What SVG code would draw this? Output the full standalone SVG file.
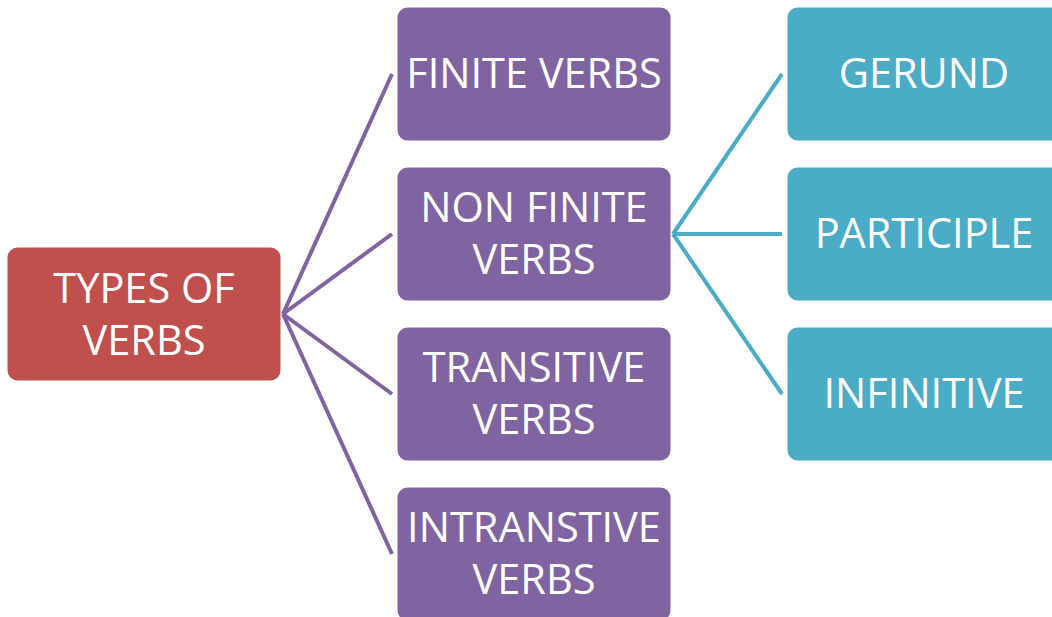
<svg xmlns="http://www.w3.org/2000/svg" width="1052" height="617" viewBox="0 0 1052 617">
<style>
.t{font-family:"Open Sans","Noto Sans",sans-serif;font-size:41.5px;fill:#fff;text-anchor:middle}
.red{fill:#C0504D}
.pur{fill:#8064A2}
.teal{fill:#4BACC6}
.lp{stroke:#8064A2;stroke-width:4;fill:none}
.lt{stroke:#4BACC6;stroke-width:4;fill:none}
</style>
<rect width="1052" height="617" fill="#fff"/>
<g id="connectors">
<line class="lp" x1="283" y1="314" x2="392" y2="74"/>
<line class="lp" x1="283" y1="314" x2="392" y2="234"/>
<line class="lp" x1="283" y1="314" x2="392" y2="394"/>
<line class="lp" x1="283" y1="314" x2="392" y2="554"/>
<line class="lt" x1="673" y1="234" x2="782" y2="74"/>
<line class="lt" x1="673" y1="234" x2="782" y2="234"/>
<line class="lt" x1="673" y1="234" x2="782" y2="394"/>
</g>
<g id="types">
<rect class="red" x="7.5" y="247.5" width="273" height="133" rx="10"/>
<text class="t" x="144" y="303">TYPES OF</text>
<text class="t" x="144" y="355">VERBS</text>
</g>
<g id="finite">
<rect class="pur" x="397.5" y="7.5" width="273" height="133" rx="10"/>
<text class="t" x="534" y="88">FINITE VERBS</text>
</g>
<g id="nonfinite">
<rect class="pur" x="397.5" y="167.5" width="273" height="133" rx="10"/>
<text class="t" x="534" y="222">NON FINITE</text>
<text class="t" x="534" y="274">VERBS</text>
</g>
<g id="transitive">
<rect class="pur" x="397.5" y="327.5" width="273" height="133" rx="10"/>
<text class="t" x="534" y="382">TRANSITIVE</text>
<text class="t" x="534" y="434">VERBS</text>
</g>
<g id="intransitive">
<rect class="pur" x="397.5" y="487.5" width="273" height="133" rx="10"/>
<text class="t" x="534" y="542">INTRANSTIVE</text>
<text class="t" x="534" y="594">VERBS</text>
</g>
<g id="gerund">
<rect class="teal" x="787.5" y="7.5" width="273" height="133" rx="10"/>
<text class="t" x="924" y="88">GERUND</text>
</g>
<g id="participle">
<rect class="teal" x="787.5" y="167.5" width="273" height="133" rx="10"/>
<text class="t" x="924" y="248">PARTICIPLE</text>
</g>
<g id="infinitive">
<rect class="teal" x="787.5" y="327.5" width="273" height="133" rx="10"/>
<text class="t" x="924" y="408">INFINITIVE</text>
</g>
</svg>
